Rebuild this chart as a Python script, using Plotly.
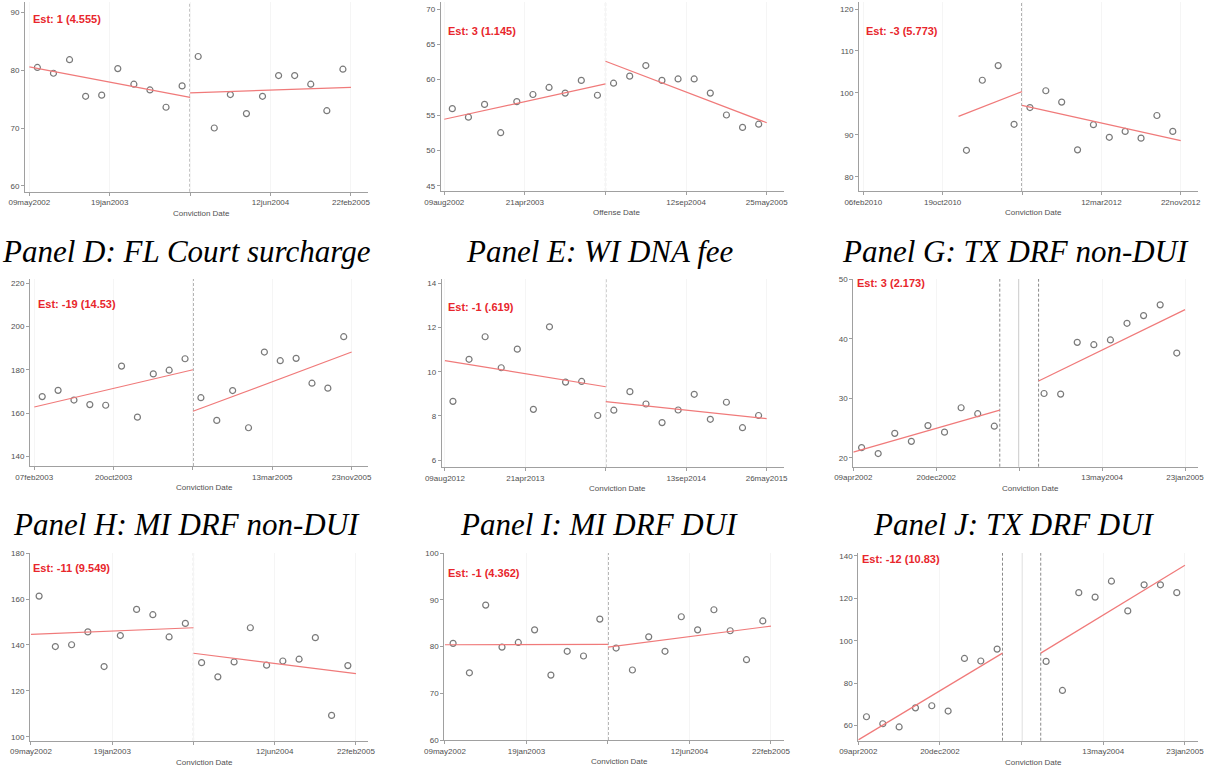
import plotly.graph_objects as go

W, H = 1214, 768

# Bin midpoints (bins relative to the fee change date)
BIN_PRE = [-9.5, -8.5, -7.5, -6.5, -5.5, -4.5, -3.5, -2.5, -1.5, -0.5]
BIN_POST = [0.5, 1.5, 2.5, 3.5, 4.5, 5.5, 6.5, 7.5, 8.5, 9.5]
BIN_PRE_DONUT = [-9.5, -8.5, -7.5, -6.5, -5.5, -4.5, -3.5, -2.5, -1.5]
BIN_POST_DONUT = [1.5, 2.5, 3.5, 4.5, 5.5, 6.5, 7.5, 8.5, 9.5]
BIN_PRE_SHORT = [-3.5, -2.5, -1.5, -0.5]
TICK_POS = [-10, -5, 0, 5, 10]
DONUT_EDGE = 1.17

# Panel A
a_pre = [80.5, 79.5, 81.85, 75.5, 75.7, 80.3, 77.6, 76.6, 73.6, 77.3]
a_post = [82.4, 70.0, 75.8, 72.5, 75.5, 79.1, 79.1, 77.6, 73.0, 80.2]
a_fit_pre = [80.6, 75.3]
a_fit_post = [76.1, 77.05]
a_ticks = ["09may2002", "19jan2003", "", "12jun2004", "22feb2005"]
a_yticks = [60, 70, 80, 90]

# Panel B
b_pre = [55.9, 54.7, 56.5, 52.5, 56.9, 57.9, 58.9, 58.1, 59.9, 57.8]
b_post = [59.5, 60.5, 62.0, 59.9, 60.1, 60.1, 58.1, 55.0, 53.25, 53.7]
b_fit_pre = [54.4, 59.4]
b_fit_post = [62.6, 53.9]
b_ticks = ["09aug2002", "21apr2003", "", "12sep2004", "25may2005"]
b_yticks = [45, 50, 55, 60, 65, 70]

# Panel C
c_pre = [86.3, 103.0, 106.5, 92.5]
c_post = [96.5, 100.5, 97.8, 86.4, 92.4, 89.4, 90.8, 89.2, 94.6, 90.8]
c_fit_pre = [94.4, 100.3]
c_fit_post = [97.0, 88.6]
c_ticks = ["06feb2010", "19oct2010", "", "12mar2012", "22nov2012"]
c_yticks = [80, 90, 100, 110, 120]

# Panel D: FL Court surcharge
d_pre = [167.6, 170.5, 166.0, 163.9, 163.6, 181.7, 158.1, 178.1, 179.8, 185.1]
d_post = [167.1, 156.6, 170.4, 153.2, 188.2, 184.2, 185.3, 173.8, 171.5, 195.3]
d_fit_pre = [162.8, 180.0]
d_fit_post = [160.8, 188.2]
d_ticks = ["07feb2003", "20oct2003", "", "13mar2005", "23nov2005"]
d_yticks = [140, 160, 180, 200, 220]

# Panel E: WI DNA fee
e_pre = [8.66, 10.56, 11.58, 10.18, 11.02, 8.30, 12.03, 9.53, 9.56, 8.02]
e_post = [8.26, 9.10, 8.54, 7.70, 8.27, 8.98, 7.85, 8.62, 7.47, 8.02]
e_fit_pre = [10.50, 9.32]
e_fit_post = [8.65, 7.88]
e_ticks = ["09aug2012", "21apr2013", "", "13sep2014", "26may2015"]
e_yticks = [6, 8, 10, 12, 14]

# Panel G: TX DRF non-DUI
g_pre = [21.7, 20.7, 24.1, 22.75, 25.4, 24.3, 28.4, 27.4, 25.3]
g_post = [30.8, 30.7, 39.4, 39.0, 39.8, 42.6, 43.9, 45.7, 37.6]
g_fit_pre = [20.95, 28.0]
g_fit_post = [32.9, 44.9]
g_ticks = ["09apr2002", "20dec2002", "", "13may2004", "23jan2005"]
g_yticks = [20, 30, 40, 50]

# Panel H: MI DRF non-DUI
h_pre = [161.3, 139.3, 140.1, 145.7, 130.6, 144.1, 155.5, 153.2, 143.5, 149.4]
h_post = [132.3, 126.1, 132.6, 147.5, 131.2, 133.0, 133.8, 143.2, 109.3, 131.0]
h_fit_pre = [144.6, 147.5]
h_fit_post = [136.4, 127.5]
h_ticks = ["09may2002", "19jan2003", "", "12jun2004", "22feb2005"]
h_yticks = [100, 120, 140, 160, 180]

# Panel I: MI DRF DUI
i_pre = [80.7, 74.4, 88.9, 79.9, 80.9, 83.6, 73.9, 79.0, 78.0, 85.9]
i_post = [79.7, 75.0, 82.1, 79.0, 86.4, 83.6, 87.9, 83.4, 77.2, 85.5]
i_fit_pre = [80.4, 80.5]
i_fit_post = [79.9, 84.4]
i_ticks = ["09may2002", "19jan2003", "", "12jun2004", "22feb2005"]
i_yticks = [60, 70, 80, 90, 100]

# Panel J: TX DRF DUI
j_pre = [64.2, 60.9, 59.4, 68.4, 69.4, 66.9, 91.7, 90.5, 96.1]
j_post = [90.3, 76.6, 122.7, 120.6, 128.1, 114.1, 126.4, 126.4, 122.7]
j_fit_pre = [53.3, 94.2]
j_fit_post = [94.2, 135.6]
j_ticks = ["09apr2002", "20dec2002", "", "13may2004", "23jan2005"]
j_yticks = [60, 80, 100, 120, 140]

panels = [
    dict(pre_x=BIN_PRE, pre=a_pre, post_x=BIN_POST, post=a_post,
         fit_pre_x=[-10, 0], fit_pre=a_fit_pre, fit_post_x=[0, 10], fit_post=a_fit_post,
         ticks=a_ticks, yticks=a_yticks, est="Est: 1 (4.555)", xtitle="Conviction Date",
         title=None, donut=False,
         box=(25, 368, 2, 191.7), xr=(-10.27, 11.06), yr=(58.96, 91.85), est_xy=(30.7, 19)),
    dict(pre_x=BIN_PRE, pre=b_pre, post_x=BIN_POST, post=b_post,
         fit_pre_x=[-10, 0], fit_pre=b_fit_pre, fit_post_x=[0, 10], fit_post=b_fit_post,
         ticks=b_ticks, yticks=b_yticks, est="Est: 3 (1.145)", xtitle="Offense Date",
         title=None, donut=False,
         box=(440.7, 784, 2, 191), xr=(-10.22, 11.07), yr=(44.25, 70.99), est_xy=(445.7, 30.7)),
    dict(pre_x=BIN_PRE_SHORT, pre=c_pre, post_x=BIN_POST, post=c_post,
         fit_pre_x=[-4, 0], fit_pre=c_fit_pre, fit_post_x=[0, 10], fit_post=c_fit_post,
         ticks=c_ticks, yticks=c_yticks, est="Est: -3 (5.773)", xtitle="Conviction Date",
         title=None, donut=False,
         box=(859, 1197.7, 2, 191), xr=(-10.27, 11.07), yr=(76.59, 121.67), est_xy=(864.3, 31)),
    dict(pre_x=BIN_PRE, pre=d_pre, post_x=BIN_POST, post=d_post,
         fit_pre_x=[-10, 0], fit_pre=d_fit_pre, fit_post_x=[0, 10], fit_post=d_fit_post,
         ticks=d_ticks, yticks=d_yticks, est="Est: -19 (14.53)", xtitle="Conviction Date",
         title="Panel D: FL Court surcharge", title_xy=(186, 251), donut=False,
         box=(30, 368, 279, 466), xr=(-10.27, 11.03), yr=(135.5, 221.99), est_xy=(35.7, 304)),
    dict(pre_x=BIN_PRE, pre=e_pre, post_x=BIN_POST, post=e_post,
         fit_pre_x=[-10, 0], fit_pre=e_fit_pre, fit_post_x=[0, 10], fit_post=e_fit_post,
         ticks=e_ticks, yticks=e_yticks, est="Est: -1 (.619)", xtitle="Conviction Date",
         title="Panel E: WI DNA fee", title_xy=(600, 251), donut=False,
         box=(441.7, 784, 279, 467.3), xr=(-10.2, 11.08), yr=(5.68, 14.19), est_xy=(445.7, 306.7)),
    dict(pre_x=BIN_PRE_DONUT, pre=g_pre, post_x=BIN_POST_DONUT, post=g_post,
         fit_pre_x=[-10, -DONUT_EDGE], fit_pre=g_fit_pre, fit_post_x=[DONUT_EDGE, 10], fit_post=g_fit_post,
         ticks=g_ticks, yticks=g_yticks, est="Est: 3 (2.173)", xtitle="Conviction Date",
         title="Panel G: TX DRF non-DUI", title_xy=(1015, 251), donut=True,
         box=(853.3, 1198, 279, 466.7), xr=(-10, 10.78), yr=(18.49, 50.05), est_xy=(855.3, 283.3)),
    dict(pre_x=BIN_PRE, pre=h_pre, post_x=BIN_POST, post=h_post,
         fit_pre_x=[-10, 0], fit_pre=h_fit_pre, fit_post_x=[0, 10], fit_post=h_fit_post,
         ticks=h_ticks, yticks=h_yticks, est="Est: -11 (9.549)", xtitle="Conviction Date",
         title="Panel H: MI DRF non-DUI", title_xy=(186, 524), donut=False,
         box=(30, 368, 553, 740.7), xr=(-10.06, 10.74), yr=(98.26, 180.1), est_xy=(30.7, 567.7)),
    dict(pre_x=BIN_PRE, pre=i_pre, post_x=BIN_POST, post=i_post,
         fit_pre_x=[-10, 0], fit_pre=i_fit_pre, fit_post_x=[0, 10], fit_post=i_fit_post,
         ticks=i_ticks, yticks=i_yticks, est="Est: -1 (4.362)", xtitle="Conviction Date",
         title="Panel I: MI DRF DUI", title_xy=(599, 524), donut=False,
         box=(444.3, 784, 553, 740), xr=(-10.04, 10.8), yr=(60, 100.06), est_xy=(445.7, 572.7)),
    dict(pre_x=BIN_PRE_DONUT, pre=j_pre, post_x=BIN_POST_DONUT, post=j_post,
         fit_pre_x=[-10, -DONUT_EDGE], fit_pre=j_fit_pre, fit_post_x=[DONUT_EDGE, 10], fit_post=j_fit_post,
         ticks=j_ticks, yticks=j_yticks, est="Est: -12 (10.83)", xtitle="Conviction Date",
         title="Panel J: TX DRF DUI", title_xy=(1014, 524), donut=True,
         box=(858.3, 1198, 553, 740.7), xr=(-10, 10.8), yr=(52.92, 141.4), est_xy=(860.3, 559.3)),
]

SANS = "Liberation Sans"
SERIF = "Liberation Serif"
AXIS_GRAY = "#a0a0a0"
LABEL_GRAY = "#505050"
MARKER_GRAY = "#7a7a7a"
FIT_RED = "#f07a7a"
EST_RED = "#e8262c"


def px_x(v):
    return v / W


def px_y(v):
    return 1 - v / H


fig = go.Figure()
layout = dict(
    template="none",
    width=W, height=H, margin=dict(l=0, r=0, t=0, b=0, autoexpand=False),
    paper_bgcolor="white", plot_bgcolor="white", showlegend=False,
)
shapes = []
annotations = []

for k, p in enumerate(panels, start=1):
    xa = "x" if k == 1 else f"x{k}"
    ya = "y" if k == 1 else f"y{k}"
    xkey = "xaxis" if k == 1 else f"xaxis{k}"
    ykey = "yaxis" if k == 1 else f"yaxis{k}"
    left, right, top, bottom = p["box"]

    layout[xkey] = dict(
        domain=[px_x(left), px_x(right)], anchor=ya, range=list(p["xr"]), automargin=False,
        tickmode="array", tickvals=TICK_POS, ticktext=p["ticks"],
        showline=True, linecolor=AXIS_GRAY, linewidth=1,
        ticks="outside", ticklen=3, tickcolor=AXIS_GRAY, tickwidth=1,
        tickfont=dict(family=SANS, size=8, color=LABEL_GRAY),
        showgrid=True, gridcolor="#f5f5f5", gridwidth=1, zeroline=False, fixedrange=True,
    )
    layout[ykey] = dict(
        domain=[px_y(bottom), px_y(top)], anchor=xa, range=list(p["yr"]), automargin=False,
        tickmode="array", tickvals=p["yticks"],
        showline=True, linecolor=AXIS_GRAY, linewidth=1,
        ticks="outside", ticklen=3, tickcolor=AXIS_GRAY, tickwidth=1,
        tickfont=dict(family=SANS, size=8, color=LABEL_GRAY),
        showgrid=False, zeroline=False, fixedrange=True,
    )

    # binned means
    for xs, ys in ((p["pre_x"], p["pre"]), (p["post_x"], p["post"])):
        fig.add_trace(go.Scatter(
            x=xs, y=ys, mode="markers", xaxis=xa, yaxis=ya,
            marker=dict(symbol="circle-open", size=6, color=MARKER_GRAY,
                        line=dict(width=1.2, color=MARKER_GRAY)),
            hoverinfo="skip",
        ))
    # fitted lines on each side of the cutoff
    for xs, ys in ((p["fit_pre_x"], p["fit_pre"]), (p["fit_post_x"], p["fit_post"])):
        fig.add_trace(go.Scatter(
            x=xs, y=ys, mode="lines", xaxis=xa, yaxis=ya,
            line=dict(color=FIT_RED, width=1.2), hoverinfo="skip",
        ))

    # cutoff markers (dashed window edges plus solid cutoff for donut designs)
    yref = f"{ya} domain"
    if p["donut"]:
        for xv in (-DONUT_EDGE, DONUT_EDGE):
            shapes.append(dict(type="line", xref=xa, yref=yref, x0=xv, x1=xv, y0=0, y1=1,
                               line=dict(color="#8a8a8a", width=1, dash="3px,2px"), layer="below"))
        shapes.append(dict(type="line", xref=xa, yref=yref, x0=0, x1=0, y0=0, y1=1,
                           line=dict(color="#9a9a9a", width=1.2), layer="below"))
    else:
        shapes.append(dict(type="line", xref=xa, yref=yref, x0=0, x1=0, y0=0, y1=1,
                           line=dict(color="#727272", width=1.1, dash="3px,2px"), layer="below"))

    # estimate label
    ex, ey = p["est_xy"]
    annotations.append(dict(
        text=f"<b>{p['est']}</b>", xref="paper", yref="paper", x=px_x(ex), y=px_y(ey),
        xanchor="left", yanchor="middle", showarrow=False,
        font=dict(family=SANS, size=11, color=EST_RED),
    ))
    # x axis title
    annotations.append(dict(
        text=p["xtitle"], xref="paper", yref="paper",
        x=px_x((left + right) / 2 + 5), y=px_y(bottom + 21.5),
        xanchor="center", yanchor="middle", showarrow=False,
        font=dict(family=SANS, size=8, color=LABEL_GRAY),
    ))
    # panel heading
    if p["title"]:
        tx, ty = p["title_xy"]
        annotations.append(dict(
            text=p["title"], xref="paper", yref="paper", x=px_x(tx), y=px_y(ty),
            xanchor="center", yanchor="middle", showarrow=False,
            font=dict(family=SERIF, size=31, color="black", style="italic"),
        ))

layout["shapes"] = shapes
layout["annotations"] = annotations
fig.update_layout(**layout)
fig.write_html("out.html")
